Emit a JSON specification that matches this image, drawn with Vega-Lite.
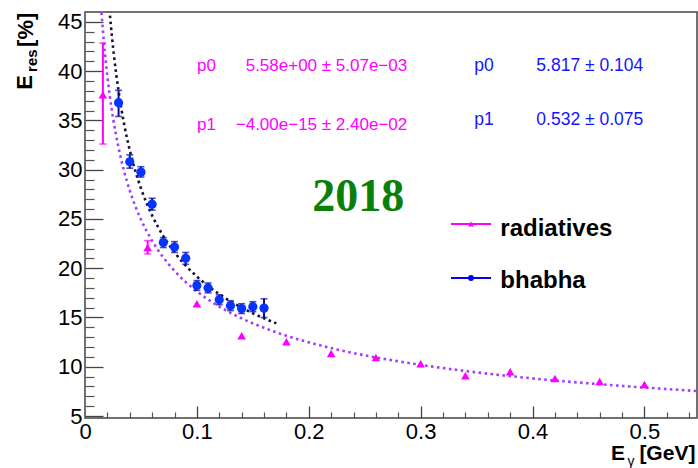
{
  "$schema": "https://vega.github.io/schema/vega-lite/v6.json",
  "width": 612,
  "height": 406,
  "autosize": {"type": "none"},
  "padding": {"left": 85, "top": 12, "right": 1, "bottom": 50},
  "background": "white",
  "config": {
    "view": {"stroke": "#444", "strokeWidth": 1.5},
    "font": "Liberation Sans",
    "text": {"font": "Liberation Sans"}
  },
  "datasets": {
    "fitRad": [
      {"E": 0.014, "v": 47.16}, {"E": 0.015, "v": 45.56}, {"E": 0.016, "v": 44.11}, {"E": 0.018, "v": 41.59},
      {"E": 0.02, "v": 39.46}, {"E": 0.022, "v": 37.62}, {"E": 0.025, "v": 35.29}, {"E": 0.03, "v": 32.22},
      {"E": 0.035, "v": 29.83}, {"E": 0.04, "v": 27.9}, {"E": 0.045, "v": 26.3}, {"E": 0.05, "v": 24.95},
      {"E": 0.06, "v": 22.78}, {"E": 0.07, "v": 21.09}, {"E": 0.08, "v": 19.73}, {"E": 0.09, "v": 18.6},
      {"E": 0.1, "v": 17.65}, {"E": 0.12, "v": 16.11}, {"E": 0.14, "v": 14.91}, {"E": 0.16, "v": 13.95},
      {"E": 0.18, "v": 13.15}, {"E": 0.2, "v": 12.48}, {"E": 0.225, "v": 11.76}, {"E": 0.25, "v": 11.16},
      {"E": 0.275, "v": 10.64}, {"E": 0.3, "v": 10.19}, {"E": 0.35, "v": 9.43}, {"E": 0.4, "v": 8.82},
      {"E": 0.45, "v": 8.32}, {"E": 0.5, "v": 7.89}, {"E": 0.547, "v": 7.54}
    ],
    "fitBha": [
      {"E": 0.021, "v": 47.47}, {"E": 0.022, "v": 46.07}, {"E": 0.024, "v": 43.6}, {"E": 0.026, "v": 41.47},
      {"E": 0.028, "v": 39.62}, {"E": 0.03, "v": 37.98}, {"E": 0.035, "v": 34.61}, {"E": 0.04, "v": 31.98},
      {"E": 0.045, "v": 29.86}, {"E": 0.05, "v": 28.11}, {"E": 0.06, "v": 25.35}, {"E": 0.07, "v": 23.26},
      {"E": 0.08, "v": 21.61}, {"E": 0.09, "v": 20.27}, {"E": 0.1, "v": 19.15}, {"E": 0.11, "v": 18.19},
      {"E": 0.12, "v": 17.37}, {"E": 0.13, "v": 16.64}, {"E": 0.14, "v": 16.0}, {"E": 0.15, "v": 15.43},
      {"E": 0.16, "v": 14.92}, {"E": 0.171, "v": 14.4}
    ],
    "rad": [
      {"E": 0.016, "v": 37.6, "lo": 32.6, "hi": 42.85},
      {"E": 0.056, "v": 22.1, "lo": 21.45, "hi": 22.8},
      {"E": 0.1, "v": 16.4, "lo": 16.4, "hi": 16.4},
      {"E": 0.14, "v": 13.15, "lo": 13.15, "hi": 13.15},
      {"E": 0.18, "v": 12.55, "lo": 12.55, "hi": 12.55},
      {"E": 0.22, "v": 11.35, "lo": 11.35, "hi": 11.35},
      {"E": 0.26, "v": 10.95, "lo": 10.95, "hi": 10.95},
      {"E": 0.3, "v": 10.3, "lo": 10.3, "hi": 10.3},
      {"E": 0.34, "v": 9.1, "lo": 9.1, "hi": 9.1},
      {"E": 0.38, "v": 9.5, "lo": 9.5, "hi": 9.5},
      {"E": 0.42, "v": 8.8, "lo": 8.8, "hi": 8.8},
      {"E": 0.46, "v": 8.5, "lo": 8.5, "hi": 8.5},
      {"E": 0.5, "v": 8.2, "lo": 8.2, "hi": 8.2}
    ],
    "bha": [
      {"E": 0.03, "v": 36.8, "lo": 35.4, "hi": 38.05},
      {"E": 0.04, "v": 30.8, "lo": 30.15, "hi": 31.5},
      {"E": 0.05, "v": 29.75, "lo": 29.25, "hi": 30.3},
      {"E": 0.06, "v": 26.5, "lo": 25.9, "hi": 27.1},
      {"E": 0.07, "v": 22.6, "lo": 22.1, "hi": 23.1},
      {"E": 0.08, "v": 22.15, "lo": 21.6, "hi": 22.7},
      {"E": 0.09, "v": 21.0, "lo": 20.4, "hi": 21.6},
      {"E": 0.1, "v": 18.25, "lo": 17.75, "hi": 18.75},
      {"E": 0.11, "v": 18.0, "lo": 17.5, "hi": 18.5},
      {"E": 0.12, "v": 16.8, "lo": 16.3, "hi": 17.3},
      {"E": 0.13, "v": 16.2, "lo": 15.7, "hi": 16.7},
      {"E": 0.14, "v": 15.9, "lo": 15.4, "hi": 16.4},
      {"E": 0.15, "v": 16.1, "lo": 15.6, "hi": 16.6},
      {"E": 0.16, "v": 15.95, "lo": 15.0, "hi": 16.9}
    ],
    "legend": [
      {"series": "radiatives", "x1": 0.3271, "x2": 0.3629, "xm": 0.345, "y": 24.49, "tx": 0.3712, "ty": 23.23},
      {"series": "bhabha", "x1": 0.3271, "x2": 0.3629, "xm": 0.345, "y": 19.01, "tx": 0.3712, "ty": 18.0}
    ],
    "notes": [
      {"group": "magLabel", "x": 0.1002, "y": 40.53, "text": "p0"},
      {"group": "magLabel", "x": 0.1002, "y": 34.54, "text": "p1"},
      {"group": "magValue", "x": 0.288, "y": 40.53, "text": "5.58e+00 ± 5.07e−03"},
      {"group": "magValue", "x": 0.288, "y": 34.54, "text": "−4.00e−15 ± 2.40e−02"},
      {"group": "blueLabel", "x": 0.348, "y": 40.53, "text": "p0"},
      {"group": "blueLabel", "x": 0.348, "y": 35.06, "text": "p1"},
      {"group": "blueValue", "x": 0.4034, "y": 40.53, "text": "5.817 ± 0.104"},
      {"group": "blueValue", "x": 0.4034, "y": 35.06, "text": "0.532 ± 0.075"},
      {"group": "year", "x": 0.2442, "y": 25.76, "text": "2018"},
      {"group": "ytitleBig", "x": -0.0474, "y": 38.1, "text": "E"},
      {"group": "ytitleSub", "x": -0.0429, "y": 39.92, "text": "res"},
      {"group": "ytitleBig", "x": -0.0465, "y": 42.46, "text": "[%]"},
      {"group": "xtitleBig", "x": 0.4702, "y": 0.5, "text": "E"},
      {"group": "xtitleSub", "x": 0.4848, "y": -0.05, "text": "γ"},
      {"group": "xtitleBig", "x": 0.4955, "y": 0.5, "text": "[GeV]"}
    ]
  },
  "resolve": {"axis": {"x": "independent", "y": "independent"}},
  "layer": [
    {
      "data": {"name": "fitRad"},
      "mark": {"type": "line", "clip": true, "color": "#a040ff", "strokeWidth": 2.6, "strokeDash": [2.6, 3.4], "interpolate": "monotone"},
      "encoding": {
        "x": {"field": "E", "type": "quantitative", "scale": {"domain": [0, 0.547], "nice": false, "zero": false},
          "axis": {"orient": "bottom", "values": [0, 0.1, 0.2, 0.3, 0.4, 0.5], "format": "~g", "ticks": false, "domain": false, "grid": false, "title": null,
            "labelFontSize": 22, "labelFont": "Liberation Sans", "labelColor": "#000", "labelPadding": 3, "labelFlush": false, "labelOverlap": false}},
        "y": {"field": "v", "type": "quantitative", "scale": {"domain": [4.8, 46], "nice": false, "zero": false},
          "axis": {"orient": "left", "values": [5, 10, 15, 20, 25, 30, 35, 40, 45], "format": "d", "ticks": false, "domain": false, "grid": false, "title": null,
            "labelFontSize": 22, "labelFont": "Liberation Sans", "labelColor": "#000", "labelPadding": 3, "labelFlush": false, "labelOverlap": false}}
      }
    },
    {
      "data": {"name": "fitBha"},
      "mark": {"type": "line", "clip": true, "color": "#141438", "strokeWidth": 2.6, "strokeDash": [2.6, 3.4], "interpolate": "monotone"},
      "encoding": {
        "x": {"field": "E", "type": "quantitative", "scale": {"domain": [0, 0.547], "nice": false, "zero": false},
          "axis": {"orient": "bottom", "values": [0.1, 0.2, 0.3, 0.4, 0.5], "labels": false, "tickSize": -12, "tickWidth": 1.3, "tickColor": "#444", "domain": false, "grid": false, "title": null}},
        "y": {"field": "v", "type": "quantitative", "scale": {"domain": [4.8, 46], "nice": false, "zero": false},
          "axis": {"orient": "left", "values": [5, 10, 15, 20, 25, 30, 35, 40, 45], "labels": false, "tickSize": -18, "tickWidth": 1.3, "tickColor": "#444", "domain": false, "grid": false, "title": null}}
      }
    },
    {
      "data": {"name": "rad"},
      "transform": [{"filter": "datum.hi > datum.lo"}],
      "mark": {"type": "rule", "color": "#ff00ff", "strokeWidth": 2},
      "encoding": {
        "x": {"field": "E", "type": "quantitative", "scale": {"domain": [0, 0.547], "nice": false, "zero": false},
          "axis": {"orient": "bottom", "values": [0.02, 0.04, 0.06, 0.08, 0.12, 0.14, 0.16, 0.18, 0.22, 0.24, 0.26, 0.28, 0.32, 0.34, 0.36, 0.38, 0.42, 0.44, 0.46, 0.48, 0.52, 0.54], "labels": false, "tickSize": -6, "tickWidth": 1.2, "tickColor": "#555", "domain": false, "grid": false, "title": null}},
        "y": {"field": "lo", "type": "quantitative", "scale": {"domain": [4.8, 46], "nice": false, "zero": false},
          "axis": {"orient": "left", "values": [6, 7, 8, 9, 11, 12, 13, 14, 16, 17, 18, 19, 21, 22, 23, 24, 26, 27, 28, 29, 31, 32, 33, 34, 36, 37, 38, 39, 41, 42, 43, 44], "labels": false, "tickSize": -9, "tickWidth": 1.2, "tickColor": "#555", "domain": false, "grid": false, "title": null}},
        "y2": {"field": "hi"}
      }
    },
    {
      "data": {"name": "rad"},
      "transform": [{"filter": "datum.hi > datum.lo"}],
      "mark": {"type": "tick", "orient": "horizontal", "color": "#ff00ff", "size": 7, "thickness": 1.6},
      "encoding": {
        "x": {"field": "E", "type": "quantitative", "scale": {"domain": [0, 0.547], "nice": false, "zero": false}, "axis": null},
        "y": {"field": "hi", "type": "quantitative", "scale": {"domain": [4.8, 46], "nice": false, "zero": false}, "axis": null}
      }
    },
    {
      "data": {"name": "rad"},
      "transform": [{"filter": "datum.hi > datum.lo"}],
      "mark": {"type": "tick", "orient": "horizontal", "color": "#ff00ff", "size": 7, "thickness": 1.6},
      "encoding": {
        "x": {"field": "E", "type": "quantitative", "scale": {"domain": [0, 0.547], "nice": false, "zero": false}, "axis": null},
        "y": {"field": "lo", "type": "quantitative", "scale": {"domain": [4.8, 46], "nice": false, "zero": false}, "axis": null}
      }
    },
    {
      "data": {"name": "rad"},
      "mark": {"type": "point", "shape": "triangle-up", "filled": true, "color": "#ff00ff", "size": 75, "opacity": 1},
      "encoding": {
        "x": {"field": "E", "type": "quantitative", "scale": {"domain": [0, 0.547], "nice": false, "zero": false}, "axis": null},
        "y": {"field": "v", "type": "quantitative", "scale": {"domain": [4.8, 46], "nice": false, "zero": false}, "axis": null}
      }
    },
    {
      "data": {"name": "bha"},
      "mark": {"type": "rule", "color": "#0a0a9a", "strokeWidth": 2},
      "encoding": {
        "x": {"field": "E", "type": "quantitative", "scale": {"domain": [0, 0.547], "nice": false, "zero": false}, "axis": null},
        "y": {"field": "lo", "type": "quantitative", "scale": {"domain": [4.8, 46], "nice": false, "zero": false}, "axis": null},
        "y2": {"field": "hi"}
      }
    },
    {
      "data": {"name": "bha"},
      "mark": {"type": "tick", "orient": "horizontal", "color": "#0a0a9a", "size": 7, "thickness": 1.6},
      "encoding": {
        "x": {"field": "E", "type": "quantitative", "scale": {"domain": [0, 0.547], "nice": false, "zero": false}, "axis": null},
        "y": {"field": "hi", "type": "quantitative", "scale": {"domain": [4.8, 46], "nice": false, "zero": false}, "axis": null}
      }
    },
    {
      "data": {"name": "bha"},
      "mark": {"type": "tick", "orient": "horizontal", "color": "#0a0a9a", "size": 7, "thickness": 1.6},
      "encoding": {
        "x": {"field": "E", "type": "quantitative", "scale": {"domain": [0, 0.547], "nice": false, "zero": false}, "axis": null},
        "y": {"field": "lo", "type": "quantitative", "scale": {"domain": [4.8, 46], "nice": false, "zero": false}, "axis": null}
      }
    },
    {
      "data": {"name": "bha"},
      "mark": {"type": "point", "shape": "circle", "filled": true, "color": "#0633ff", "size": 85, "opacity": 1},
      "encoding": {
        "x": {"field": "E", "type": "quantitative", "scale": {"domain": [0, 0.547], "nice": false, "zero": false}, "axis": null},
        "y": {"field": "v", "type": "quantitative", "scale": {"domain": [4.8, 46], "nice": false, "zero": false}, "axis": null}
      }
    },
    {
      "data": {"name": "legend"},
      "mark": {"type": "rule", "strokeWidth": 2},
      "encoding": {
        "x": {"field": "x1", "type": "quantitative", "scale": {"domain": [0, 0.547], "nice": false, "zero": false}, "axis": null},
        "x2": {"field": "x2"},
        "y": {"field": "y", "type": "quantitative", "scale": {"domain": [4.8, 46], "nice": false, "zero": false}, "axis": null},
        "color": {"field": "series", "type": "nominal", "scale": {"domain": ["radiatives", "bhabha"], "range": ["#ff00ff", "#0000ff"]}, "legend": null}
      }
    },
    {
      "data": {"name": "legend"},
      "mark": {"type": "point", "filled": true, "opacity": 1, "size": 35},
      "encoding": {
        "x": {"field": "xm", "type": "quantitative", "scale": {"domain": [0, 0.547], "nice": false, "zero": false}, "axis": null},
        "y": {"field": "y", "type": "quantitative", "scale": {"domain": [4.8, 46], "nice": false, "zero": false}, "axis": null},
        "color": {"field": "series", "type": "nominal", "scale": {"domain": ["radiatives", "bhabha"], "range": ["#ff00ff", "#0000ff"]}, "legend": null},
        "shape": {"field": "series", "type": "nominal", "scale": {"domain": ["radiatives", "bhabha"], "range": ["triangle-up", "circle"]}, "legend": null}
      }
    },
    {
      "data": {"name": "legend"},
      "mark": {"type": "text", "align": "left", "baseline": "alphabetic", "fontSize": 24, "fontWeight": "bold", "font": "Liberation Sans", "color": "#000"},
      "encoding": {
        "x": {"field": "tx", "type": "quantitative", "scale": {"domain": [0, 0.547], "nice": false, "zero": false}, "axis": null},
        "y": {"field": "ty", "type": "quantitative", "scale": {"domain": [4.8, 46], "nice": false, "zero": false}, "axis": null},
        "text": {"field": "series"}
      }
    },
    {
      "data": {"name": "notes"},
      "transform": [{"filter": "datum.group == 'magLabel'"}],
      "mark": {"type": "text", "align": "left", "baseline": "middle", "fontSize": 17, "font": "Liberation Sans", "color": "#ff00ff"},
      "encoding": {
        "x": {"field": "x", "type": "quantitative", "scale": {"domain": [0, 0.547], "nice": false, "zero": false}, "axis": null},
        "y": {"field": "y", "type": "quantitative", "scale": {"domain": [4.8, 46], "nice": false, "zero": false}, "axis": null},
        "text": {"field": "text"}
      }
    },
    {
      "data": {"name": "notes"},
      "transform": [{"filter": "datum.group == 'magValue'"}],
      "mark": {"type": "text", "align": "right", "baseline": "middle", "fontSize": 17, "font": "Liberation Sans", "color": "#ff00ff"},
      "encoding": {
        "x": {"field": "x", "type": "quantitative", "scale": {"domain": [0, 0.547], "nice": false, "zero": false}, "axis": null},
        "y": {"field": "y", "type": "quantitative", "scale": {"domain": [4.8, 46], "nice": false, "zero": false}, "axis": null},
        "text": {"field": "text"}
      }
    },
    {
      "data": {"name": "notes"},
      "transform": [{"filter": "datum.group == 'blueLabel' || datum.group == 'blueValue'"}],
      "mark": {"type": "text", "align": "left", "baseline": "middle", "fontSize": 17.5, "font": "Liberation Sans", "color": "#1414ff"},
      "encoding": {
        "x": {"field": "x", "type": "quantitative", "scale": {"domain": [0, 0.547], "nice": false, "zero": false}, "axis": null},
        "y": {"field": "y", "type": "quantitative", "scale": {"domain": [4.8, 46], "nice": false, "zero": false}, "axis": null},
        "text": {"field": "text"}
      }
    },
    {
      "data": {"name": "notes"},
      "transform": [{"filter": "datum.group == 'year'"}],
      "mark": {"type": "text", "align": "center", "baseline": "alphabetic", "fontSize": 46, "fontWeight": "bold", "font": "Liberation Serif", "color": "#0a800a"},
      "encoding": {
        "x": {"field": "x", "type": "quantitative", "scale": {"domain": [0, 0.547], "nice": false, "zero": false}, "axis": null},
        "y": {"field": "y", "type": "quantitative", "scale": {"domain": [4.8, 46], "nice": false, "zero": false}, "axis": null},
        "text": {"field": "text"}
      }
    },
    {
      "data": {"name": "notes"},
      "transform": [{"filter": "datum.group == 'ytitleBig'"}],
      "mark": {"type": "text", "align": "left", "baseline": "alphabetic", "angle": 270, "fontSize": 22, "fontWeight": "bold", "font": "Liberation Sans", "color": "#000"},
      "encoding": {
        "x": {"field": "x", "type": "quantitative", "scale": {"domain": [0, 0.547], "nice": false, "zero": false}, "axis": null},
        "y": {"field": "y", "type": "quantitative", "scale": {"domain": [4.8, 46], "nice": false, "zero": false}, "axis": null},
        "text": {"field": "text"}
      }
    },
    {
      "data": {"name": "notes"},
      "transform": [{"filter": "datum.group == 'ytitleSub'"}],
      "mark": {"type": "text", "align": "left", "baseline": "alphabetic", "angle": 270, "fontSize": 15, "fontWeight": "bold", "font": "Liberation Sans", "color": "#000"},
      "encoding": {
        "x": {"field": "x", "type": "quantitative", "scale": {"domain": [0, 0.547], "nice": false, "zero": false}, "axis": null},
        "y": {"field": "y", "type": "quantitative", "scale": {"domain": [4.8, 46], "nice": false, "zero": false}, "axis": null},
        "text": {"field": "text"}
      }
    },
    {
      "data": {"name": "notes"},
      "transform": [{"filter": "datum.group == 'xtitleBig'"}],
      "mark": {"type": "text", "align": "left", "baseline": "alphabetic", "fontSize": 21, "fontWeight": "bold", "font": "Liberation Sans", "color": "#000"},
      "encoding": {
        "x": {"field": "x", "type": "quantitative", "scale": {"domain": [0, 0.547], "nice": false, "zero": false}, "axis": null},
        "y": {"field": "y", "type": "quantitative", "scale": {"domain": [4.8, 46], "nice": false, "zero": false}, "axis": null},
        "text": {"field": "text"}
      }
    },
    {
      "data": {"name": "notes"},
      "transform": [{"filter": "datum.group == 'xtitleSub'"}],
      "mark": {"type": "text", "align": "left", "baseline": "alphabetic", "fontSize": 14, "font": "Liberation Sans", "color": "#000"},
      "encoding": {
        "x": {"field": "x", "type": "quantitative", "scale": {"domain": [0, 0.547], "nice": false, "zero": false}, "axis": null},
        "y": {"field": "y", "type": "quantitative", "scale": {"domain": [4.8, 46], "nice": false, "zero": false}, "axis": null},
        "text": {"field": "text"}
      }
    }
  ]
}
